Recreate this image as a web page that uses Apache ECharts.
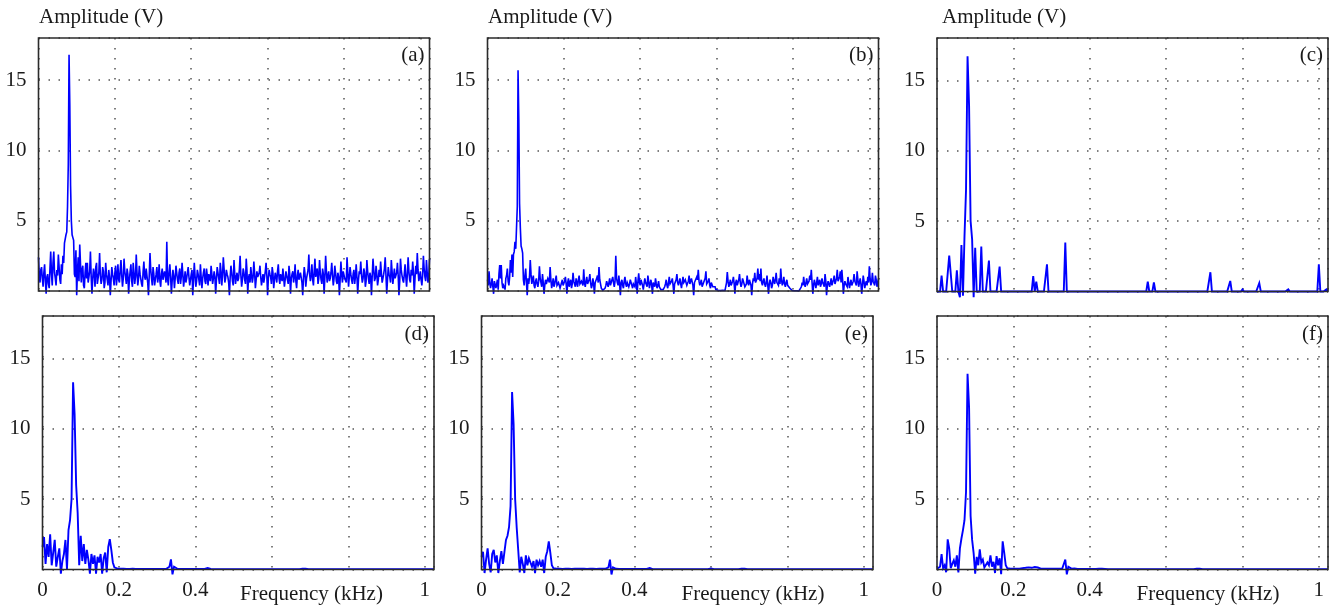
<!DOCTYPE html>
<html>
<head>
<meta charset="utf-8">
<script src="https://cdn.jsdelivr.net/npm/echarts@6/dist/echarts.min.js"></script>
<style>
  html, body { margin: 0; padding: 0; background: #fff; }
  #main { width: 1337px; height: 610px; }
</style>
</head>
<body>
<div id="main"></div>
<script>
// frequency step (kHz) of each spectrum, all spanning 0 .. 1.024 kHz
const freqSteps = [0.002, 0.002, 0.004, 0.004, 0.004, 0.004];

// (a) 513 values
const ampA = [
  2.4,1.1,0.6,1.5,1.7,0.9,0.3,1.3,1.9,0.7,-0.2,1.0,1.2,0.5,0.2,1.6,2.8,1.2,0.4,2.0,2.8,1.3,0.9,0.4,1.5,1.1,2.6,1.7,0.8,0.5,1.9,1.2,
  2.5,2.0,3.4,3.5,4.0,4.2,6.0,9.0,16.8,13.2,7.5,5.0,4.0,3.8,3.6,1.2,1.0,2.9,-0.3,1.4,2.4,0.7,3.3,1.9,0.6,1.5,1.8,0.4,0.2,1.3,2.0,0.9,
  2.0,0.6,0.7,1.4,2.8,1.0,-0.2,0.9,1.6,1.2,0.3,1.7,2.0,0.5,0.9,1.3,2.7,1.1,0.5,0.8,1.7,1.4,0.2,0.6,2.0,1.2,0.8,0.4,1.5,1.0,-0.3,0.7,
  1.7,1.2,0.9,0.4,1.3,1.8,0.4,1.0,1.9,0.8,0.6,1.5,2.2,1.1,0.3,0.9,2.3,1.4,1.0,0.5,1.6,1.2,-0.2,0.8,1.4,1.9,0.7,0.3,2.0,1.3,0.5,1.0,
  2.6,1.3,0.4,0.9,1.8,1.2,1.1,0.5,0.3,1.4,2.1,1.0,0.8,1.6,1.5,0.6,-0.3,1.1,2.7,1.5,0.9,0.4,1.7,1.2,0.4,0.8,1.2,1.7,0.6,1.0,1.9,0.7,
  0.3,1.2,1.6,0.8,0.7,1.4,1.1,0.6,3.5,0.9,0.4,1.3,1.9,1.0,-0.2,0.7,1.5,1.1,0.2,0.9,1.8,1.3,0.8,0.5,1.3,1.6,0.5,1.0,2.0,1.2,0.3,0.8,
  1.4,0.6,0.9,1.3,1.7,1.0,0.4,0.8,1.2,1.5,-0.3,0.9,2.0,1.1,0.3,0.7,1.5,1.2,0.8,0.4,1.9,1.0,0.2,0.9,1.3,1.6,0.7,0.5,1.6,1.1,0.4,1.2,
  1.1,0.7,1.8,1.2,0.5,0.9,1.4,1.0,-0.2,0.8,1.7,1.3,0.9,0.5,2.0,1.4,0.4,1.1,2.4,1.6,0.6,0.9,1.5,1.2,1.0,0.6,-0.3,1.0,1.8,1.3,0.7,0.4,
  2.2,1.2,0.5,1.0,1.3,0.7,0.9,1.5,2.5,1.1,0.3,0.8,1.6,1.3,0.8,0.5,2.3,1.4,-0.2,0.9,1.2,0.6,1.7,1.1,0.6,1.0,2.1,1.3,0.2,0.8,1.4,1.0,
  0.9,1.3,1.8,1.0,0.4,0.8,1.2,0.6,0.7,1.4,2.0,1.1,-0.3,0.9,1.5,1.2,1.0,0.5,1.7,1.3,0.2,0.8,1.3,1.0,0.6,1.4,1.9,0.9,0.5,1.2,1.1,0.7,
  1.6,1.0,0.3,0.8,1.4,1.1,0.8,0.5,1.8,1.2,-0.2,0.9,1.2,1.4,0.6,1.0,1.9,0.7,0.2,1.1,1.5,0.8,0.9,1.3,1.3,0.6,-0.3,1.0,1.7,1.2,0.3,0.9,
  1.0,1.5,2.6,1.2,0.7,1.1,1.9,0.8,0.4,1.4,2.3,1.0,1.1,1.6,0.5,0.9,2.2,1.3,0.8,0.5,1.6,1.2,-0.2,1.0,2.5,1.4,0.6,1.1,1.4,0.7,0.9,1.3,
  2.0,1.1,0.4,0.9,1.8,1.3,0.7,0.5,1.3,1.0,-0.3,0.8,2.1,1.2,0.6,1.4,1.5,0.9,1.0,0.6,2.4,1.3,0.3,1.0,1.7,1.2,0.8,0.5,1.2,1.5,0.5,1.0,
  1.9,1.0,-0.2,0.8,1.4,1.2,2.1,1.1,0.6,0.9,1.6,1.3,0.3,0.7,2.2,1.4,0.9,0.5,1.3,1.0,-0.3,1.1,2.3,1.5,0.7,0.9,1.8,1.2,0.4,0.8,1.5,1.0,
  2.1,1.3,0.6,0.9,1.2,1.6,2.4,1.1,-0.2,0.8,1.7,1.2,1.0,0.6,2.2,1.4,0.5,1.0,1.6,0.9,0.8,1.3,2.0,1.1,-0.3,0.7,2.3,1.5,1.1,0.8,0.6,1.2,
  1.9,1.0,0.3,1.2,2.4,1.4,0.8,0.6,1.5,1.1,2.1,1.3,-0.2,0.9,1.8,1.2,2.7,1.5,0.7,1.0,1.4,0.8,0.4,1.1,2.5,1.6,1.0,0.7,2.2,1.3,0.6,1.0,
  2.3
];

// (b) 513 values
const ampB = [
  0.8,0.4,1.4,0.6,0.2,0.5,0.9,0.3,-0.2,0.7,0.6,0.2,0.3,0.8,0.1,1.2,1.85,0.9,1.85,0.6,0.2,0.4,0.3,0.1,0.9,1.1,1.6,0.7,0.4,1.0,2.2,1.3,
  2.6,1.0,2.6,2.8,3.5,3.0,4.5,6.0,15.7,12.2,6.2,4.5,3.2,3.0,2.7,0.8,0.4,1.1,1.6,0.6,-0.3,0.9,0.5,1.0,2.2,1.2,0.5,0.8,1.1,0.4,0.2,0.7,
  0.9,0.5,0.3,0.7,1.75,0.9,0.6,0.3,1.2,0.6,-0.2,0.4,0.8,0.5,0.4,0.9,1.0,0.6,1.7,0.8,0.2,0.5,0.9,0.3,0.5,0.8,1.1,0.4,0.3,0.6,0.7,0.2,
  0.2,0.6,0.8,0.4,0.4,0.7,1.0,0.5,-0.2,0.6,0.9,0.3,0.6,0.8,0.2,0.5,1.3,0.7,0.5,0.3,0.9,0.6,0.3,0.8,1.1,0.5,0.4,0.7,0.8,0.4,1.55,0.6,
  0.3,0.7,1.0,0.5,0.5,0.8,1.2,0.6,0.2,0.4,0.9,0.5,-0.2,0.6,0.7,0.9,1.1,0.6,1.7,0.8,0.5,0.2,0.1,0.05,0.05,0.1,0.2,0.4,0.7,0.5,0.3,0.6,
  0.9,0.4,0.5,0.8,1.0,0.6,0.3,0.7,2.5,0.9,0.6,0.4,1.1,0.5,-0.3,0.6,0.8,0.4,0.2,0.7,1.0,0.5,0.3,0.6,0.7,0.3,0.5,0.8,0.9,0.4,0.2,0.5,
  0.6,0.3,1.0,0.5,-0.2,0.7,1.25,0.6,0.4,0.8,0.7,0.4,0.1,0.5,0.9,0.6,0.5,0.3,1.1,0.7,0.2,0.5,0.8,0.4,-0.2,0.6,0.6,0.3,0.9,0.5,0.2,0.4,
  0.7,0.3,0.4,0.1,0.05,0.02,0.1,0.2,0.3,0.5,0.8,0.4,0.2,0.6,1.0,0.5,0.5,0.7,0.9,0.4,-0.2,0.5,0.6,0.8,1.2,0.6,0.4,0.3,0.9,0.5,0.2,0.6,
  1.0,0.6,0.5,0.8,0.8,0.4,0.3,0.7,1.1,0.5,0.6,0.9,0.9,0.4,-0.3,0.6,0.7,0.5,1.0,0.8,1.5,0.7,0.4,0.5,0.8,0.3,0.3,0.6,0.6,0.9,1.4,0.5,
  0.5,0.7,0.9,0.4,0.2,0.6,0.7,0.3,0.4,0.2,0.3,0.1,0.1,0.04,0.05,0.02,0.02,0.03,0.03,0.02,0.05,0.03,0.1,0.04,0.02,0.6,1.35,0.7,0.3,0.5,0.8,0.4,
  0.4,0.7,1.0,0.5,-0.2,0.6,0.8,0.4,0.5,0.8,1.2,0.6,0.3,0.5,0.9,0.7,0.6,0.3,0.2,0.5,1.1,0.6,0.4,0.8,0.7,0.4,-0.3,0.5,0.9,0.7,1.3,0.6,
  0.5,0.9,1.6,0.8,1.2,0.7,1.6,0.6,0.4,0.7,0.9,0.5,0.3,0.6,1.1,0.4,-0.2,0.5,0.8,0.6,0.2,0.4,1.0,0.7,0.5,0.8,1.3,0.6,0.7,0.4,0.9,0.5,
  1.6,0.8,0.4,0.6,1.0,0.5,0.3,0.6,0.8,0.4,0.5,0.3,0.2,0.1,0.1,0.03,0.05,0.02,0.02,0.03,0.03,0.02,0.05,0.03,0.02,0.03,0.04,0.3,0.6,0.4,1.0,0.5,
  0.3,0.6,0.9,0.5,0.5,0.7,1.1,0.8,1.5,0.6,-0.2,0.4,0.8,0.5,0.2,0.6,1.0,0.4,0.6,0.8,0.3,0.5,0.9,0.6,0.5,0.3,1.2,0.7,-0.3,0.4,0.7,0.5,
  0.3,0.6,0.9,0.4,0.6,0.8,1.1,0.5,0.4,0.9,1.5,0.7,0.8,1.0,1.4,0.6,1.5,0.8,-0.2,0.4,0.7,0.5,0.5,0.3,1.0,0.6,0.2,0.5,0.8,0.4,0.4,0.7,
  1.2,0.7,0.6,0.4,1.4,0.8,0.3,0.6,0.9,0.5,-0.2,0.4,1.1,0.7,0.2,0.5,0.7,0.4,1.0,0.6,1.75,0.9,0.4,0.6,1.3,0.7,0.6,0.4,1.1,0.8,0.3,0.6,
  0.9
];

// (c) 257 values
const ampC = [
  0,0,0,1.13,0,0,0,0,2.55,2.5,0,0,0,1.5,0,-0.4,
  3.3,-0.3,3.9,7.2,16.7,13.2,5.0,3.7,-0.4,3.1,0,0,0,3.2,0,0,
  0,0,2.2,0,0,0,0,0,0,1.77,0,0,0,0,0,0,
  0,0,0,0,0,0,0,0,0,0,0,0,0,0,0,1.1,
  0,0.7,0,0,0,0,0,0,1.93,0,0,0,0,0,0,0,
  0,0,0,0,3.47,0,0,0,0,0,0,0,0,0,0,0,
  0,0,0,0,0,0,0,0,0,0,0,0,0,0,0,0,
  0,0,0,0,0,0,0,0,0,0,0,0,0,0,0,0,
  0,0,0,0,0,0,0,0,0,0,0.7,0,0,0,0.64,0,
  0,0,0,0,0,0,0,0,0,0,0,0,0,0,0,0,
  0,0,0,0,0,0,0,0,0,0,0,0,0,0,0,0,
  0,0,0,1.37,0,0,0,0,0,0,0,0,0,0,0,0,
  0.75,0,0,0,0,0,0,0,0.15,0,0,0,0,0,0,0,
  0,0,0,0.6,0,0,0,0,0,0,0,0,0,0,0,0,
  0,0,0,0,0,0,0.15,0,0,0,0,0,0,0,0,0,
  0,0,0,0,0,0,0,0,0,0,1.93,0,0,0,0,0.15,
  0
];

// (d) 257 values
const ampD = [
  1.6,2.3,0.4,1.8,0.9,2.5,0.3,1.2,2.1,0.2,0.9,1.5,-0.3,0.6,1.1,2.1,
  0.0,2.8,3.5,5.0,13.3,11.0,6.0,4.0,0.3,2.4,0.6,1.8,0.4,1.4,0.7,-0.3,
  1.1,0.4,1.0,-0.3,0.9,0.5,1.1,-0.3,0.8,1.2,-0.2,1.6,2.15,1.4,0.5,0.15,
  0.08,0.06,0.05,0.05,0.04,0.05,0.04,0.04,0.05,0.04,0.04,0.05,0.04,0.04,0.04,0.04,
  0.04,0.04,0.04,0.04,0.04,0.04,0.04,0.04,0.04,0.04,0.04,0.04,0.04,0.04,0.04,0.04,
  0.04,0.05,0.06,0.2,0.72,-0.35,0.2,0.1,0.06,0.05,0.04,0.04,0.04,0.04,0.04,0.04,
  0.04,0.04,0.04,0.04,0.04,0.04,0.04,0.04,0.04,0.04,0.04,0.05,0.1,0.05,0.04,0.04,
  0.03,0.03,0.03,0.03,0.03,0.03,0.03,0.03,0.03,0.03,0.03,0.03,0.03,0.03,0.03,0.03,
  0.03,0.03,0.03,0.03,0.03,0.03,0.03,0.03,0.03,0.03,0.03,0.03,0.03,0.03,0.03,0.03,
  0.03,0.03,0.03,0.03,0.03,0.03,0.03,0.03,0.03,0.03,0.03,0.03,0.03,0.03,0.03,0.03,
  0.03,0.03,0.03,0.03,0.03,0.03,0.03,0.03,0.03,0.03,0.05,0.13,0.05,0.03,0.03,0.03,
  0.03,0.03,0.03,0.03,0.03,0.03,0.03,0.03,0.03,0.03,0.03,0.03,0.03,0.03,0.03,0.03,
  0.03,0.03,0.03,0.03,0.03,0.03,0.03,0.03,0.03,0.03,0.03,0.03,0.03,0.03,0.03,0.03,
  0.03,0.03,0.03,0.03,0.03,0.03,0.03,0.03,0.03,0.03,0.03,0.03,0.03,0.03,0.03,0.03,
  0.03,0.03,0.03,0.03,0.03,0.03,0.03,0.03,0.03,0.03,0.03,0.03,0.03,0.03,0.03,0.03,
  0.03,0.03,0.03,0.03,0.03,0.03,0.03,0.03,0.03,0.03,0.03,0.03,0.03,0.03,0.03,0.03,
  0.03
];

// (e) 257 values
const ampE = [
  0.9,1.25,-0.25,0.7,1.5,0.4,-0.2,1.1,1.4,0.5,1.0,-0.25,0.6,1.3,0.4,1.25,
  2.1,2.4,3.0,4.5,12.6,10.3,5.0,3.0,1.4,-0.2,0.9,0.4,-0.25,1.0,0.3,0.8,
  0.5,0.2,0.6,-0.25,0.7,0.3,0.6,0.2,0.7,-0.25,0.9,1.3,2.0,1.2,0.3,0.1,
  0.07,0.06,0.05,0.05,0.05,0.04,0.05,0.05,0.04,0.05,0.05,0.04,0.05,0.06,0.07,0.06,
  0.05,0.05,0.04,0.05,0.05,0.04,0.05,0.05,0.04,0.05,0.05,0.04,0.05,0.05,0.04,0.05,
  0.04,0.05,0.06,0.15,0.7,-0.35,0.15,0.08,0.05,0.04,0.04,0.04,0.04,0.04,0.04,0.04,
  0.04,0.04,0.04,0.04,0.04,0.04,0.04,0.04,0.04,0.04,0.04,0.04,0.04,0.05,0.1,0.05,
  0.03,0.03,0.03,0.03,0.03,0.03,0.03,0.03,0.03,0.03,0.03,0.03,0.03,0.03,0.03,0.03,
  0.03,0.03,0.03,0.03,0.03,0.03,0.03,0.03,0.03,0.03,0.03,0.03,0.03,0.03,0.03,0.03,
  0.03,0.03,0.03,0.03,0.03,0.05,0.08,0.05,0.03,0.03,0.03,0.03,0.03,0.03,0.03,0.03,
  0.03,0.03,0.03,0.03,0.03,0.03,0.03,0.03,0.03,0.03,0.06,0.15,0.06,0.03,0.03,0.03,
  0.03,0.03,0.03,0.03,0.03,0.03,0.03,0.03,0.03,0.03,0.03,0.03,0.03,0.03,0.03,0.03,
  0.03,0.03,0.03,0.03,0.03,0.03,0.03,0.03,0.03,0.03,0.03,0.03,0.03,0.03,0.03,0.03,
  0.03,0.03,0.03,0.03,0.03,0.03,0.03,0.03,0.03,0.03,0.03,0.03,0.03,0.03,0.03,0.03,
  0.03,0.03,0.03,0.03,0.03,0.03,0.03,0.03,0.03,0.03,0.03,0.03,0.03,0.03,0.03,0.03,
  0.03,0.03,0.03,0.03,0.03,0.03,0.03,0.03,0.03,0.03,0.03,0.03,0.03,0.03,0.03,0.03,
  0.03
];

// (f) 257 values
const ampF = [
  0.05,0.1,0.2,1.1,0.1,0.3,-0.2,2.14,1.5,0.1,0.4,0.66,0.2,1.0,-0.2,1.5,
  2.2,2.8,3.5,5.5,13.9,11.5,3.8,2.1,1.15,-0.3,0.9,0.3,1.43,0.5,0.7,0.15,
  0.2,0.5,0.3,1.0,0.2,0.55,-0.25,0.95,0.3,0.8,-0.33,2.0,1.2,0.3,0.1,0.06,
  0.05,0.05,0.05,0.05,0.05,0.06,0.05,0.06,0.1,0.15,0.12,0.18,0.15,0.2,0.12,0.16,
  0.18,0.1,0.14,0.08,0.06,0.05,0.05,0.05,0.05,0.05,0.05,0.05,0.05,0.05,0.05,0.05,
  0.05,0.05,0.06,0.15,0.71,-0.35,0.2,0.1,0.06,0.05,0.08,0.05,0.04,0.04,0.04,0.04,
  0.04,0.04,0.04,0.04,0.04,0.04,0.04,0.04,0.04,0.04,0.05,0.1,0.05,0.04,0.04,0.04,
  0.03,0.03,0.03,0.03,0.03,0.03,0.03,0.03,0.03,0.03,0.03,0.03,0.03,0.03,0.03,0.03,
  0.03,0.03,0.03,0.03,0.03,0.03,0.03,0.03,0.03,0.03,0.03,0.03,0.03,0.03,0.03,0.03,
  0.03,0.03,0.03,0.03,0.03,0.03,0.03,0.03,0.03,0.03,0.03,0.03,0.03,0.03,0.03,0.03,
  0.03,0.03,0.03,0.03,0.03,0.03,0.03,0.03,0.03,0.03,0.05,0.13,0.05,0.03,0.03,0.03,
  0.03,0.03,0.03,0.03,0.03,0.03,0.03,0.03,0.03,0.03,0.03,0.03,0.03,0.03,0.03,0.03,
  0.03,0.03,0.03,0.03,0.03,0.03,0.03,0.03,0.03,0.03,0.03,0.03,0.03,0.03,0.03,0.03,
  0.03,0.03,0.03,0.03,0.03,0.03,0.03,0.03,0.03,0.03,0.03,0.03,0.03,0.03,0.03,0.03,
  0.03,0.03,0.03,0.03,0.03,0.03,0.03,0.03,0.03,0.03,0.03,0.03,0.03,0.03,0.03,0.03,
  0.03,0.03,0.03,0.03,0.03,0.03,0.03,0.03,0.03,0.03,0.03,0.03,0.03,0.03,0.03,0.03,
  0.03
];

const panelTags = ['(a)', '(b)', '(c)', '(d)', '(e)', '(f)'];
const xTickLabels = { '0': '0', '0.2': '0.2', '0.4': '0.4', '1': '1' };
const yTickLabels = [5, 10, 15];
const xTitle = 'Frequency (kHz)';
const yTitle = 'Amplitude (V)';

// layout of the six panels [left, top, width, height]
const boxes = [
  [38.5, 38, 391, 253],
  [487.5, 38, 391, 253],
  [937, 38, 391, 253.5],
  [42.5, 316, 391.5, 253.5],
  [481.5, 316, 391.5, 253.5],
  [937, 316, 391, 253.5]
];

const FONT = '"Liberation Serif", "Times New Roman", serif';
const TXT = '#1a1a1a';
const allAmp = [ampA, ampB, ampC, ampD, ampE, ampF];

const chart = echarts.init(document.getElementById('main'));

const grid = [], xAxis = [], yAxis = [], series = [], graphic = [];
const dots = { color: '#555', width: 1.5, type: [1.5, 8.5] };

boxes.forEach(function (b, i) {
  grid.push({
    left: b[0], top: b[1], width: b[2], height: b[3],
    show: true, z: 10,
    borderColor: '#2b2b2b', borderWidth: 1.6,
    backgroundColor: 'transparent'
  });
  xAxis.push({
    gridIndex: i, type: 'value', min: 0, max: 1.024, interval: 0.2,
    axisLine: { show: false }, axisTick: { show: false },
    axisLabel: {
      show: i >= 3, margin: 10, fontFamily: FONT, fontSize: 21, color: TXT,
      formatter: function (v) {
        const k = String(Math.round(v * 1000) / 1000);
        return xTickLabels[k] || '';
      }
    },
    splitLine: { show: true, lineStyle: dots }
  });
  yAxis.push({
    gridIndex: i, type: 'value', min: 0, max: 18, interval: 5,
    axisLine: { show: false }, axisTick: { show: false },
    axisLabel: {
      margin: 12, fontFamily: FONT, fontSize: 21, color: TXT,
      formatter: function (v) { return yTickLabels.indexOf(v) >= 0 ? String(v) : ''; }
    },
    splitLine: { show: true, lineStyle: dots }
  });
  series.push({
    type: 'line', xAxisIndex: i, yAxisIndex: i,
    data: allAmp[i].map(function (a, k) { return [k * freqSteps[i], a]; }),
    showSymbol: false, symbol: 'none', clip: false,
    lineStyle: { color: '#0000ff', width: i < 2 ? 1.6 : 1.9, join: 'miter', miterLimit: 4 },
    z: 2
  });
  graphic.push({
    type: 'text', x: b[0] + b[2] - 5, y: b[1] + (i < 3 ? 17.5 : 18.5),
    style: { text: panelTags[i], font: '21px ' + FONT, fill: TXT, align: 'right', verticalAlign: 'middle' }
  });
});

// axis titles
[39, 488, 942].forEach(function (x) {
  graphic.push({
    type: 'text', x: x, y: 17,
    style: { text: yTitle, font: '21px ' + FONT, fill: TXT, align: 'left', verticalAlign: 'middle' }
  });
});
[311.5, 753, 1208].forEach(function (x) {
  graphic.push({
    type: 'text', x: x, y: 594,
    style: { text: xTitle, font: '21px ' + FONT, fill: TXT, align: 'center', verticalAlign: 'middle' }
  });
});

chart.setOption({
  animation: false,
  backgroundColor: '#ffffff',
  grid: grid,
  xAxis: xAxis,
  yAxis: yAxis,
  series: series,
  graphic: graphic
});
</script>
</body>
</html>
